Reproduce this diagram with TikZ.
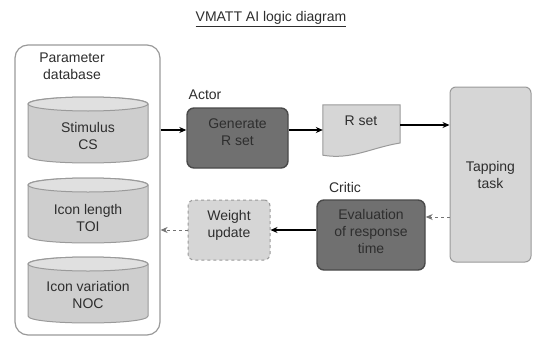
\documentclass[tikz,border=0pt]{standalone}
\usepackage{fontspec}
\setmainfont{Liberation Sans}
\usetikzlibrary{arrows.meta,calc}
\definecolor{darkfill}{HTML}{707070}
\definecolor{darkedge}{HTML}{4A4A4A}
\definecolor{lightfill}{HTML}{D6D6D6}
\definecolor{lightedge}{HTML}{9A9A9A}
\definecolor{cylfill}{HTML}{CECECE}
\definecolor{cyltopfill}{HTML}{E0E0E0}
\definecolor{txt}{HTML}{2E2E2E}
\newcommand{\drawcyl}[3]{%
  \filldraw[cylfill, draw=lightedge, line width=1pt]
    ({#1-60},{#2}) -- ({#1-60},{#3})
    .. controls ({#1-60},{#3+9.3}) and ({#1+60},{#3+9.3}) .. ({#1+60},{#3})
    -- ({#1+60},{#2})
    .. controls ({#1+60},{#2-9.3}) and ({#1-60},{#2-9.3}) .. cycle;
  \filldraw[cyltopfill, draw=lightedge, line width=1pt] (#1,#2) ellipse [x radius=60pt, y radius=7pt];
}
\begin{document}
\begin{tikzpicture}[x=1pt,y=-1pt,
  every node/.style={font=\fontsize{14}{17}\selectfont, text=txt, align=center, inner sep=0pt},
  darkbox/.style={draw=darkedge, fill=darkfill, line width=1.4pt, rounded corners=7pt},
  lightbox/.style={draw=lightedge, fill=lightfill, line width=1pt, rounded corners=6pt},
  weightbox/.style={draw=lightedge, fill=lightfill, line width=1pt, dashed, rounded corners=6pt},
  dbbox/.style={draw=lightedge, fill=white, line width=1.2pt, rounded corners=13pt},
  arr/.style={-{Stealth[length=7pt,width=6pt]}, line width=1.1pt, draw=black},
  farr/.style={-{Stealth[length=7pt,width=6pt]}, line width=1pt, draw=black!55, dashed}
]
\useasboundingbox (0,0) rectangle (534,337);
\fill[white] (0,0) rectangle (534,337);

% title
\node (title) at (271,19) {\underline{VMATT AI logic diagram}};

% parameter database
\node[dbbox, minimum width=145pt, minimum height=290pt] (db) at (87.5,190) {};
\node (dblabel) at (72,66) {Parameter\\database};
\drawcyl{88}{104}{156}
\node (cs) at (88,136) {Stimulus\\CS};
\drawcyl{88}{185}{236}
\node (toi) at (88,218) {Icon length\\TOI};
\drawcyl{88}{264}{316}
\node (noc) at (88,295) {Icon variation\\NOC};

% actor
\node (actor) at (205,95) {Actor};
\node[darkbox, minimum width=101pt, minimum height=60pt] (gen) at (237.5,138) {};
\node (gentext) at (237.5,132) {Generate\\R set};

% document
\node[minimum width=77pt, minimum height=50pt] (rset) at (361.5,130) {};
\filldraw[lightfill, draw=lightedge, line width=1pt]
  (rset.north west) -- (rset.north east) -- (400,143)
  .. controls (370,148) and (352,160) .. (rset.south west) -- cycle;
\node (rsettext) at (361,121) {R set};

% task
\node[lightbox, minimum width=81pt, minimum height=175pt] (task) at (490.5,174.5) {Tapping\\task};

% critic
\node (critic) at (345,187) {Critic};
\node[darkbox, minimum width=108pt, minimum height=70pt] (eval) at (371,235) {};
\node (evaltext) at (371,231) {Evaluation\\of response\\time};

% weight update
\node[weightbox, minimum width=82pt, minimum height=60pt] (weight) at (229,230) {};
\node (weighttext) at (229,225) {Weight\\update};

% connectors
\coordinate (r1) at ($(gen.west)+(0,-8)$);
\coordinate (r2) at ($(gen.east)+(0,-8)$);
\coordinate (r3) at ($(rset.east)+(0,-5)$);
\coordinate (r4) at ($(eval.east)+(0,-18)$);
\draw[arr] (db.east |- r1) -- (r1);
\draw[arr] (r2) -- (r2 -| rset.west);
\draw[arr] (r3) -- (r3 -| task.west);
\draw[farr] (task.west |- r4) -- (r4);
\draw[arr] (eval.west |- weight.east) -- (weight.east);
\draw[farr] (weight.west) -- (db.east |- weight.west);
\end{tikzpicture}
\end{document}
